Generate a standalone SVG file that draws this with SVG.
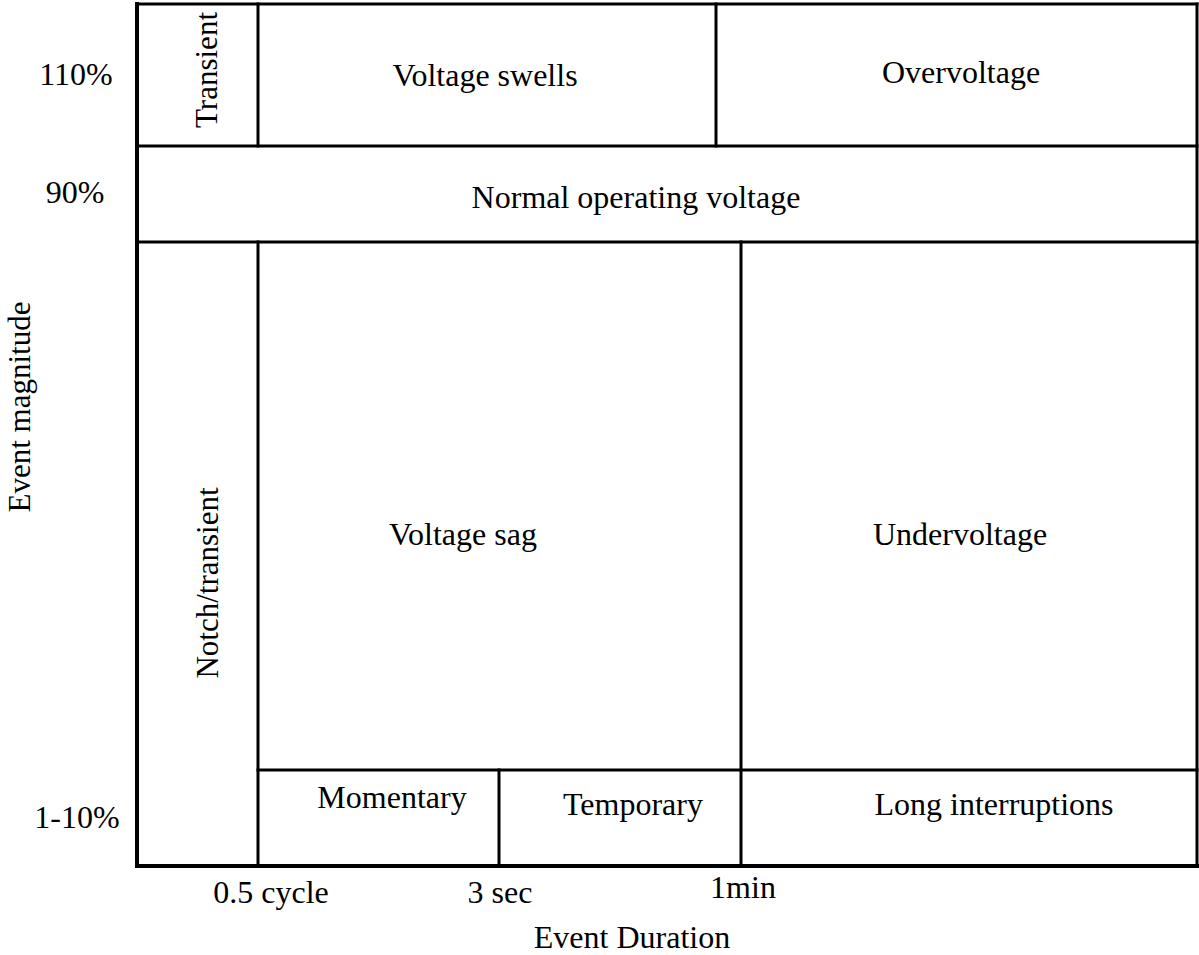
<svg xmlns="http://www.w3.org/2000/svg" width="1199" height="955" viewBox="0 0 1199 955">
  <style>
    .ln { stroke: #000; stroke-width: 3; fill: none; stroke-linecap: square; }
    .ax { stroke: #000; stroke-width: 4; fill: none; stroke-linecap: square; }
    text { font-family: "Liberation Serif", "Times New Roman", serif; font-size: 32px; fill: #000; text-anchor: middle; }
    .v { font-size: 31px; }
  </style>
  <rect x="0" y="0" width="1199" height="955" fill="#fff"/>

  <!-- grid lines separating the event regions -->
  <g id="connectors">
    <line class="ln" x1="137" y1="4" x2="1197" y2="4"/>
    <line class="ln" x1="1197" y1="4" x2="1197" y2="866"/>
    <line class="ln" x1="137" y1="146" x2="1197" y2="146"/>
    <line class="ln" x1="137" y1="242" x2="1197" y2="242"/>
    <line class="ln" x1="258" y1="4" x2="258" y2="146"/>
    <line class="ln" x1="716" y1="4" x2="716" y2="146"/>
    <line class="ln" x1="258" y1="242" x2="258" y2="866"/>
    <line class="ln" x1="741" y1="242" x2="741" y2="866"/>
    <line class="ln" x1="258" y1="770" x2="1197" y2="770"/>
    <line class="ln" x1="499" y1="770" x2="499" y2="866"/>
    <line class="ax" x1="137" y1="4" x2="137" y2="866"/>
    <line class="ax" x1="137" y1="866" x2="1197" y2="866"/>
  </g>

  <g id="transient"><text class="v" transform="translate(217,70) rotate(-90)">Transient</text></g>
  <g id="voltage-swells"><text x="485" y="86">Voltage swells</text></g>
  <g id="overvoltage"><text x="961" y="83">Overvoltage</text></g>
  <g id="normal-voltage"><text x="636" y="208">Normal operating voltage</text></g>
  <g id="notch-transient"><text class="v" transform="translate(218,583) rotate(-90)">Notch/transient</text></g>
  <g id="voltage-sag"><text x="463" y="545">Voltage sag</text></g>
  <g id="undervoltage"><text x="960" y="545">Undervoltage</text></g>
  <g id="momentary"><text x="392" y="808">Momentary</text></g>
  <g id="temporary"><text x="633" y="815">Temporary</text></g>
  <g id="long-interruptions"><text x="994" y="815">Long interruptions</text></g>

  <!-- axis labels -->
  <g id="y-axis">
    <text x="76" y="85">110%</text>
    <text x="75" y="203">90%</text>
    <text x="77" y="828">1-10%</text>
    <text class="v" transform="translate(30,407) rotate(-90)">Event magnitude</text>
  </g>
  <g id="x-axis">
    <text x="271" y="903">0.5 cycle</text>
    <text x="500" y="903">3 sec</text>
    <text x="743" y="898">1min</text>
    <text x="632" y="948">Event Duration</text>
  </g>
</svg>
